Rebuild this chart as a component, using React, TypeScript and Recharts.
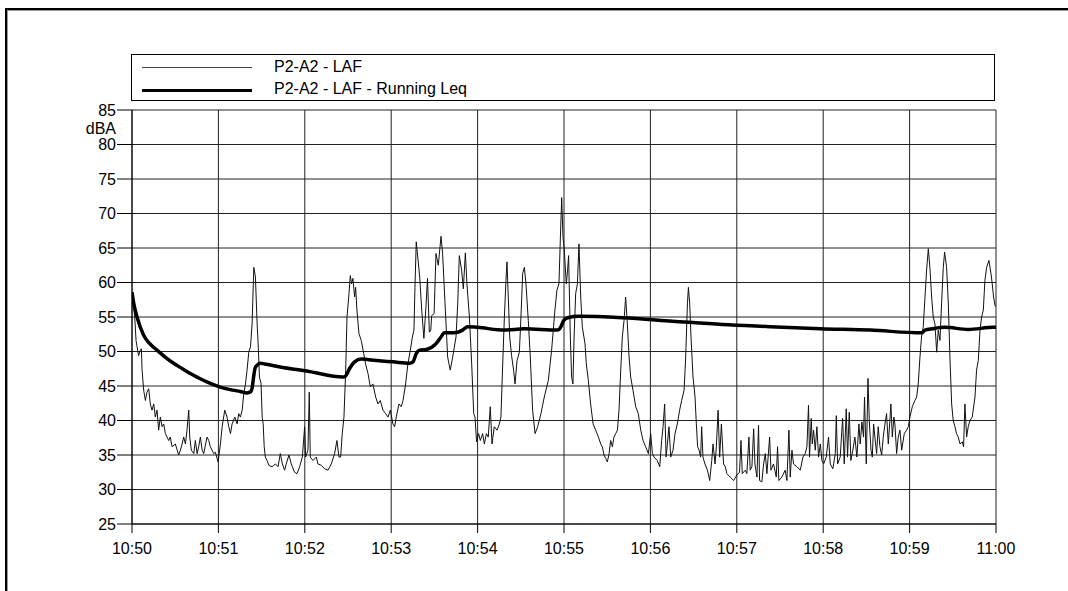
import React from 'react';
import { LineChart, Line, XAxis, YAxis, CartesianGrid } from 'recharts';

// Time axis: seconds after 10:50:00, one labelled tick per minute
const xTickSec = [0, 60, 120, 180, 240, 300, 360, 420, 480, 540, 600];
const xTickLabels = ['10:50', '10:51', '10:52', '10:53', '10:54', '10:55', '10:56', '10:57', '10:58', '10:59', '11:00'];

// Level axis (dBA)
const yTicks = [25, 30, 35, 40, 45, 50, 55, 60, 65, 70, 75, 80, 85];

// P2-A2 - LAF : [seconds, dBA]
const lafSamples: [number, number][] = [
  [0, 58.6], [1.9, 55.0], [2.8, 51.6], [3.5, 50.7], [4.6, 49.4], [5.8, 50.2], [6.5, 50.4], [7.0, 47.3],
  [8.1, 44.4], [9.3, 42.9], [10.4, 44.1], [11.6, 44.6], [12.7, 42.4], [13.9, 41.5], [15.1, 42.4], [16.2, 40.5],
  [17.4, 41.5], [18.5, 38.6], [19.7, 40.5], [20.9, 39.1], [22.0, 39.5], [23.2, 38.1], [24.3, 37.6], [25.5, 37.1],
  [26.6, 37.6], [27.8, 36.2], [30.1, 36.6], [32.4, 35.0], [33.6, 35.7], [34.8, 36.6], [35.9, 37.6], [37.1, 36.6],
  [38.2, 38.6], [39.4, 41.5], [40.1, 37.6], [41.2, 35.7], [42.9, 35.2], [44.0, 37.1], [45.2, 35.2], [46.3, 36.2],
  [47.5, 37.6], [48.7, 35.7], [49.8, 35.2], [52.1, 37.6], [53.3, 37.1], [54.4, 36.2], [56.8, 35.2], [57.9, 35.4],
  [59.8, 34.0], [61.4, 36.6], [62.6, 39.1], [64.4, 41.5], [66.0, 40.5], [67.2, 39.1], [68.4, 38.1], [69.5, 39.5],
  [71.4, 40.5], [73.0, 39.5], [74.1, 41.0], [75.3, 40.5], [76.5, 41.5], [77.6, 43.9], [78.8, 45.3], [79.9, 47.3],
  [81.1, 49.9], [82.3, 50.7], [83.4, 54.0], [84.6, 62.2], [85.7, 60.8], [86.9, 54.0], [87.6, 51.1], [88.5, 46.3],
  [89.6, 45.4], [90.4, 40.5], [91.1, 39.5], [91.8, 36.2], [92.6, 34.7], [93.8, 34.2], [95.0, 33.5], [97.3, 33.3],
  [99.6, 33.7], [101.4, 33.3], [103.0, 35.2], [104.4, 33.7], [106.0, 32.8], [107.1, 33.7], [109.0, 35.0], [110.6, 33.7],
  [112.9, 32.5], [114.6, 32.3], [116.4, 33.3], [118.3, 34.7], [119.9, 39.1], [120.6, 34.7], [122.2, 35.7], [123.1, 44.1],
  [123.8, 34.7], [125.7, 34.2], [128.0, 34.7], [129.1, 33.7], [131.5, 33.5], [133.8, 33.0], [136.1, 32.8], [138.4, 33.7],
  [140.7, 35.2], [142.3, 37.1], [143.7, 34.7], [144.9, 34.7], [146.0, 38.1], [147.2, 40.5], [148.4, 47.3], [149.3, 55.0],
  [150.7, 58.4], [151.6, 61.0], [152.5, 59.8], [153.4, 60.6], [154.6, 57.9], [155.3, 59.3], [156.2, 56.0], [157.6, 52.6],
  [159.2, 51.6], [160.9, 49.7], [162.2, 48.2], [163.9, 46.8], [165.5, 44.9], [167.3, 45.3], [169.2, 43.4], [170.8, 42.4],
  [172.4, 42.9], [174.3, 41.5], [176.1, 41.0], [177.8, 40.5], [179.4, 41.5], [181.2, 39.5], [182.4, 39.1], [183.5, 40.5],
  [185.4, 42.4], [187.0, 42.0], [188.2, 42.9], [190.0, 45.3], [191.6, 48.2], [193.3, 50.2], [194.7, 52.1], [195.8, 53.1],
  [196.5, 59.3], [197.4, 65.9], [199.8, 60.8], [201.2, 56.0], [202.7, 51.9], [204.0, 56.0], [205.2, 60.6], [206.5, 52.8],
  [207.5, 53.1], [208.1, 55.2], [209.8, 55.5], [211.1, 64.2], [212.7, 62.5], [214.6, 66.7], [215.7, 64.2], [217.4, 56.9],
  [219.2, 49.2], [221.0, 47.3], [222.7, 49.2], [225.0, 52.1], [226.2, 56.9], [227.3, 63.9], [228.9, 61.8], [230.1, 59.1],
  [231.5, 64.3], [232.6, 59.8], [234.3, 55.0], [235.9, 48.2], [237.3, 41.0], [238.2, 40.5], [239.3, 36.9], [240.7, 38.1],
  [241.9, 37.1], [243.5, 38.1], [244.7, 36.6], [246.1, 38.1], [247.4, 37.6], [248.8, 42.0], [250.0, 36.6], [251.6, 39.1],
  [253.5, 38.6], [255.1, 39.5], [256.2, 40.5], [257.6, 49.2], [258.6, 55.0], [259.7, 60.3], [260.4, 63.0], [261.3, 57.9],
  [262.3, 52.1], [263.6, 49.4], [265.0, 47.3], [266.0, 45.3], [267.4, 48.7], [269.0, 49.9], [270.1, 55.0], [271.3, 61.3],
  [272.5, 62.2], [273.6, 59.8], [275.2, 54.5], [276.6, 49.2], [278.2, 41.5], [279.9, 38.1], [281.7, 39.1], [284.0, 41.0],
  [286.3, 43.4], [289.1, 45.8], [291.4, 50.2], [293.7, 56.0], [295.1, 58.9], [296.5, 59.8], [297.5, 66.6], [298.4, 72.3],
  [299.3, 66.6], [300.2, 64.7], [301.6, 59.8], [302.5, 61.8], [303.2, 63.9], [304.4, 52.1], [305.3, 46.3], [306.2, 45.3],
  [307.0, 52.1], [308.1, 58.4], [309.3, 59.8], [310.4, 65.6], [311.6, 57.9], [312.7, 53.6], [314.6, 51.1], [315.5, 48.2],
  [316.9, 45.8], [318.5, 42.4], [320.2, 39.5], [322.0, 38.6], [323.9, 37.6], [325.5, 36.6], [326.6, 36.2], [327.8, 35.0],
  [329.0, 34.5], [330.1, 34.0], [331.3, 35.2], [332.4, 37.1], [333.6, 36.2], [334.7, 37.6], [335.9, 38.1], [337.1, 38.6],
  [338.2, 41.5], [339.4, 47.3], [340.5, 52.1], [341.7, 54.5], [342.8, 57.9], [344.0, 54.0], [345.2, 49.2], [346.3, 46.3],
  [347.9, 44.4], [349.8, 42.0], [351.6, 41.0], [353.3, 38.6], [354.9, 37.1], [356.7, 36.2], [358.6, 35.2], [360.2, 38.1],
  [361.4, 35.2], [362.5, 34.7], [364.8, 34.2], [366.5, 33.3], [367.8, 37.1], [368.8, 39.1], [369.9, 42.4], [370.9, 34.7],
  [371.8, 36.6], [372.9, 39.1], [374.1, 34.7], [375.7, 35.7], [377.1, 38.1], [378.7, 39.5], [380.3, 41.5], [381.7, 42.9],
  [383.4, 44.4], [384.5, 49.2], [385.7, 56.9], [386.4, 59.3], [387.3, 56.9], [388.2, 52.1], [389.6, 46.3], [391.0, 43.4],
  [391.9, 39.5], [392.8, 36.2], [393.8, 35.7], [394.9, 34.7], [395.6, 39.1], [396.5, 34.7], [397.9, 33.7], [399.6, 32.8],
  [401.2, 31.3], [402.6, 34.2], [403.5, 36.6], [404.9, 33.7], [405.8, 36.2], [407.0, 41.5], [408.1, 34.7], [409.3, 39.5],
  [410.8, 33.7], [412.0, 33.3], [413.1, 32.3], [415.4, 31.8], [417.8, 31.3], [420.1, 32.1], [421.9, 32.5], [422.9, 37.1],
  [423.8, 32.3], [425.9, 32.8], [427.0, 32.3], [428.4, 37.6], [429.3, 32.8], [430.5, 33.3], [431.7, 38.8], [432.6, 33.7],
  [434.0, 31.8], [435.1, 39.3], [435.8, 31.3], [437.4, 31.1], [438.6, 33.7], [439.8, 35.2], [440.9, 32.3], [442.8, 37.6],
  [443.7, 32.8], [445.5, 33.7], [447.4, 31.8], [448.3, 36.2], [449.2, 31.3], [451.3, 31.8], [453.6, 32.8], [454.8, 31.3],
  [456.2, 38.6], [457.1, 31.8], [458.3, 35.7], [459.4, 33.7], [461.7, 33.3], [464.1, 32.8], [465.9, 34.7], [467.5, 35.2],
  [468.7, 36.2], [469.8, 42.2], [470.5, 34.7], [471.7, 40.3], [472.4, 36.6], [473.3, 38.6], [474.5, 35.7], [475.6, 39.1],
  [476.8, 34.7], [478.0, 36.6], [479.1, 34.2], [480.3, 33.7], [482.1, 34.7], [483.7, 37.6], [484.9, 33.7], [486.7, 33.0],
  [488.4, 35.2], [489.1, 40.7], [490.0, 33.7], [491.8, 34.7], [493.5, 40.3], [494.6, 33.7], [496.0, 41.7], [496.9, 34.7],
  [498.1, 41.2], [499.2, 34.2], [500.6, 35.7], [502.0, 37.6], [503.4, 34.7], [504.8, 39.5], [505.7, 36.6], [506.9, 39.8],
  [508.0, 37.6], [508.7, 43.4], [509.9, 33.7], [511.1, 46.1], [512.0, 40.0], [513.2, 35.7], [514.1, 34.7], [515.0, 39.5],
  [515.9, 37.6], [517.1, 35.2], [518.2, 39.1], [519.4, 36.2], [520.6, 35.0], [521.7, 37.6], [522.9, 39.5], [524.0, 41.0],
  [525.2, 36.6], [526.3, 40.0], [527.0, 42.4], [528.0, 37.6], [529.1, 40.5], [529.8, 39.5], [531.0, 35.2], [532.1, 37.6],
  [533.3, 38.6], [534.5, 35.7], [536.3, 38.1], [537.9, 38.6], [539.1, 39.1], [540.2, 40.5], [541.9, 42.0], [543.7, 42.9],
  [544.9, 43.4], [546.0, 45.3], [547.2, 49.2], [548.3, 52.1], [549.5, 53.6], [550.7, 57.9], [551.8, 61.8], [553.0, 64.9],
  [554.1, 62.2], [555.3, 57.9], [556.4, 55.0], [557.6, 54.0], [558.8, 49.9], [559.9, 53.1], [561.1, 51.6], [562.2, 56.9],
  [563.4, 62.2], [564.3, 64.4], [565.7, 62.2], [566.9, 56.9], [568.0, 49.2], [569.2, 42.4], [570.3, 40.0], [571.5, 39.1],
  [572.6, 38.1], [573.8, 37.6], [575.0, 36.6], [576.6, 36.9], [577.5, 36.2], [578.4, 42.4], [579.6, 37.6], [580.7, 39.1],
  [581.9, 40.0], [583.5, 40.5], [585.4, 43.4], [586.5, 47.3], [587.7, 48.7], [588.9, 53.1], [590.0, 55.0], [591.2, 56.0],
  [592.3, 60.3], [593.5, 62.2], [595.1, 63.2], [596.5, 61.3], [597.4, 59.8], [598.3, 57.9], [599.5, 56.5],
];

// P2-A2 - LAF - Running Leq : [seconds, dBA]
const leqSamples: [number, number][] = [
  [0, 58.6], [1.2, 57.0], [3.5, 55.0], [8, 52.4], [12, 51.2], [17.4, 50.2], [23, 49.2], [28.9, 48.3],
  [35, 47.5], [40.5, 46.8], [46, 46.2], [52, 45.6], [58, 45.1], [63.6, 44.7], [70, 44.4], [75.2, 44.2],
  [79.9, 44.0], [82.5, 44.2], [83.5, 44.8], [84.5, 46.4], [85.5, 47.6], [86.8, 48.0], [89, 48.3], [92, 48.2],
  [102, 47.8], [123, 47.1], [146.5, 46.3], [148.5, 46.5], [151, 47.5], [154.6, 48.5], [159.2, 48.9], [169.6, 48.7],
  [181.2, 48.5], [192.8, 48.3], [195.1, 48.5], [197.4, 49.7], [199.7, 50.2], [204.4, 50.3], [211, 51.1], [214.6, 52.1],
  [216.9, 52.7], [220.4, 52.7], [226.2, 52.8], [229.6, 53.1], [233.1, 53.6], [240, 53.5], [258.6, 53.1], [272.5, 53.3],
  [295.6, 53.1], [297.9, 53.6], [299.8, 54.5], [302.5, 54.9], [310.4, 55.1], [340.5, 54.9], [375.3, 54.4], [410, 53.9],
  [443, 53.6], [478, 53.3], [512.7, 53.1], [548.3, 52.7], [550.7, 53.1], [556, 53.3], [564.5, 53.5], [580.7, 53.2],
  [598.3, 53.5], [600, 53.5],
];

const lafData = lafSamples.map(([t, db]) => ({ t, db }));
const leqData = leqSamples.map(([t, db]) => ({ t, db }));

const FONT = '"Liberation Sans", Arial, sans-serif';

export default function App() {
  return (
    <div
      style={{
        position: 'absolute',
        left: 0,
        top: 0,
        width: 1068,
        height: 591,
        background: '#fff',
        fontFamily: FONT,
        overflow: 'hidden',
      }}
    >
      {/* page frame */}
      <div
        style={{
          position: 'absolute',
          left: 5,
          top: 8,
          width: 1100,
          height: 620,
          borderTop: '2px solid #000',
          borderLeft: '2px solid #000',
          boxShadow: 'inset 1px 1px 0 #9a9a9a',
        }}
      />

      {/* legend */}
      <div
        style={{
          position: 'absolute',
          left: 131,
          top: 54,
          width: 864,
          height: 47,
          boxSizing: 'border-box',
          border: '1px solid #000',
          background: '#fff',
        }}
      >
        <div style={{ position: 'absolute', left: 10, top: 12, width: 110, height: 1, background: '#444' }} />
        <div style={{ position: 'absolute', left: 142, top: 3, fontSize: 16, lineHeight: '18px', color: '#000', whiteSpace: 'nowrap' }}>
          P2-A2 - LAF
        </div>
        <div style={{ position: 'absolute', left: 10, top: 34, width: 110, height: 3, background: '#000' }} />
        <div style={{ position: 'absolute', left: 142, top: 25, fontSize: 16, lineHeight: '18px', color: '#000', whiteSpace: 'nowrap' }}>
          P2-A2 - LAF - Running Leq
        </div>
      </div>

      {/* unit label */}
      <div
        style={{
          position: 'absolute',
          right: 1068 - 116,
          top: 120,
          fontSize: 16,
          lineHeight: '18px',
          color: '#000',
        }}
      >
        dBA
      </div>

      <div style={{ position: 'absolute', left: 0, top: 0 }}>
        <LineChart width={1068} height={591} margin={{ top: 110, right: 72, bottom: 37, left: 72 }}>
          <CartesianGrid stroke="#222" strokeWidth={1} />
          <XAxis
            dataKey="t"
            type="number"
            domain={[0, 600]}
            ticks={xTickSec}
            interval={0}
            allowDataOverflow
            tickFormatter={(v: number) => xTickLabels[xTickSec.indexOf(v)] ?? ''}
            tick={{ fill: '#000', fontSize: 16, fontFamily: FONT }}
            tickSize={9}
            tickMargin={10}
            height={30}
            stroke="#000"
          />
          <YAxis
            type="number"
            domain={[25, 85]}
            ticks={yTicks}
            interval={0}
            allowDataOverflow
            tick={{ fill: '#000', fontSize: 16, fontFamily: FONT }}
            tickSize={15}
            tickMargin={1}
            width={60}
            stroke="#000"
          />
          <Line
            data={lafData}
            dataKey="db"
            type="linear"
            stroke="#111"
            strokeWidth={1}
            dot={false}
            activeDot={false}
            isAnimationActive={false}
          />
          <Line
            data={leqData}
            dataKey="db"
            type="monotone"
            stroke="#000"
            strokeWidth={3.5}
            dot={false}
            activeDot={false}
            isAnimationActive={false}
          />
        </LineChart>
      </div>
    </div>
  );
}
